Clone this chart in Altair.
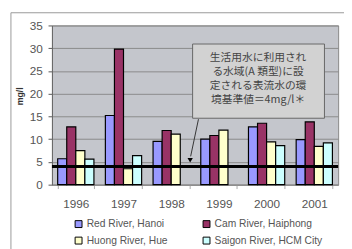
import altair as alt
import pandas as pd

years = ["1996", "1997", "1998", "1999", "2000", "2001"]
series = ["Red River, Hanoi", "Cam River, Haiphong", "Huong River, Hue", "Saigon River, HCM City"]
red = [5.7, 15.2, 9.5, 10.0, 12.7, 9.9]
cam = [12.7, 29.8, 11.9, 10.8, 13.5, 13.8]
huong = [7.5, 3.5, 11.1, 12.0, 9.4, 8.4]
saigon = [5.6, 6.4, None, None, 8.6, 9.2]
colors = ["#9999FF", "#993366", "#FFFFCC", "#CCFFFF"]
y_ticks = [0, 5, 10, 15, 20, 25, 30, 35]
threshold = [4]
note = "生活用水に利用され\nる水域(A 類型)に設\n定される表流水の環\n境基準値＝4mg/l＊"

rows = []
for s, vals in zip(series, [red, cam, huong, saigon]):
    for yr, v in zip(years, vals):
        if v is not None:
            rows.append({"year": yr, "river": s, "value": v})
df = pd.DataFrame(rows)
one = pd.DataFrame({"a": [0]})

W, H = 293, 163

y_axis = alt.Axis(values=y_ticks, labelOverlap=False, title="mg/l", titleAngle=-90,
                  titleX=-33, titleY=72,
                  titleFont="Liberation Sans", titleFontSize=9, titleFontWeight="bold",
                  titleColor="#333333", titleAlign="center", titleBaseline="middle",
                  tickSize=4, tickColor="#555555", domainColor="#666666", labelPadding=6,
                  gridColor="#8a8a8a", labelFont="Liberation Sans", labelFontSize=12,
                  labelColor="#555555")
y_scale = alt.Scale(domain=[0, 35], nice=False)

frame = alt.Chart(one).mark_rect(fillOpacity=0, stroke="#999999", strokeWidth=1).encode(
    x=alt.value(-42), x2=alt.value(310), y=alt.value(-13), y2=alt.value(260)
)

bars = alt.Chart(df).mark_bar(stroke="black", strokeWidth=1.2).encode(
    x=alt.X("year:N", sort=years,
            scale=alt.Scale(paddingInner=0.24, paddingOuter=0.12),
            axis=alt.Axis(title=None, labelAngle=0, tickBand="extent", tickSize=4,
                          tickColor="#aaaaaa", domainColor="#888888", labelPadding=10,
                          labelFont="Liberation Sans", labelFontSize=12, labelColor="#555555")),
    xOffset=alt.XOffset("river:N", sort=series, scale=alt.Scale(paddingInner=0, paddingOuter=0)),
    y=alt.Y("value:Q", scale=y_scale, axis=y_axis),
    color=alt.Color("river:N", sort=series, scale=alt.Scale(domain=series, range=colors),
                    legend=alt.Legend(title=None, orient="none", legendX=22, legendY=198,
                                      direction="horizontal", columns=2, columnPadding=33,
                                      rowPadding=5, symbolType="square", symbolSize=50,
                                      symbolStrokeColor="black", symbolStrokeWidth=1,
                                      labelFont="Liberation Sans", labelFontSize=10.5,
                                      labelColor="#555555", labelOffset=3)),
)

rule = alt.Chart(pd.DataFrame({"v": threshold})).mark_rule(color="black", strokeWidth=3).encode(
    y=alt.Y("v:Q", scale=y_scale, axis=y_axis)
)

box = alt.Chart(one).mark_rect(fill="#d2d2d2", stroke="#666666", strokeWidth=1).encode(
    x=alt.value(144), x2=alt.value(279), y=alt.value(19), y2=alt.value(95)
)

text = alt.Chart(one).mark_text(lineBreak="\n", lineHeight=14.3, align="center", baseline="top",
                                font="Noto Sans CJK JP", fontSize=11, color="#444444").encode(
    x=alt.value(211), y=alt.value(27), text=alt.value(note)
)

arrow = alt.Chart(one).mark_rule(color="#333333", strokeWidth=1).encode(
    x=alt.value(150), x2=alt.value(142), y=alt.value(96), y2=alt.value(134)
)

head = alt.Chart(one).mark_point(shape="triangle-down", filled=True, size=30, color="black", opacity=1).encode(
    x=alt.value(141.5), y=alt.value(138)
)

chart = alt.layer(frame, bars, rule, box, text, arrow, head).properties(
    width=W, height=H,
    autosize=alt.AutoSizeParams(type="none"),
    padding={"left": 45, "top": 15, "right": 6, "bottom": 63},
    background="white",
).configure_view(fill="#c4c6cc", stroke="#888888")

chart.save("out.html", embed_options={"renderer": "svg", "actions": False})
